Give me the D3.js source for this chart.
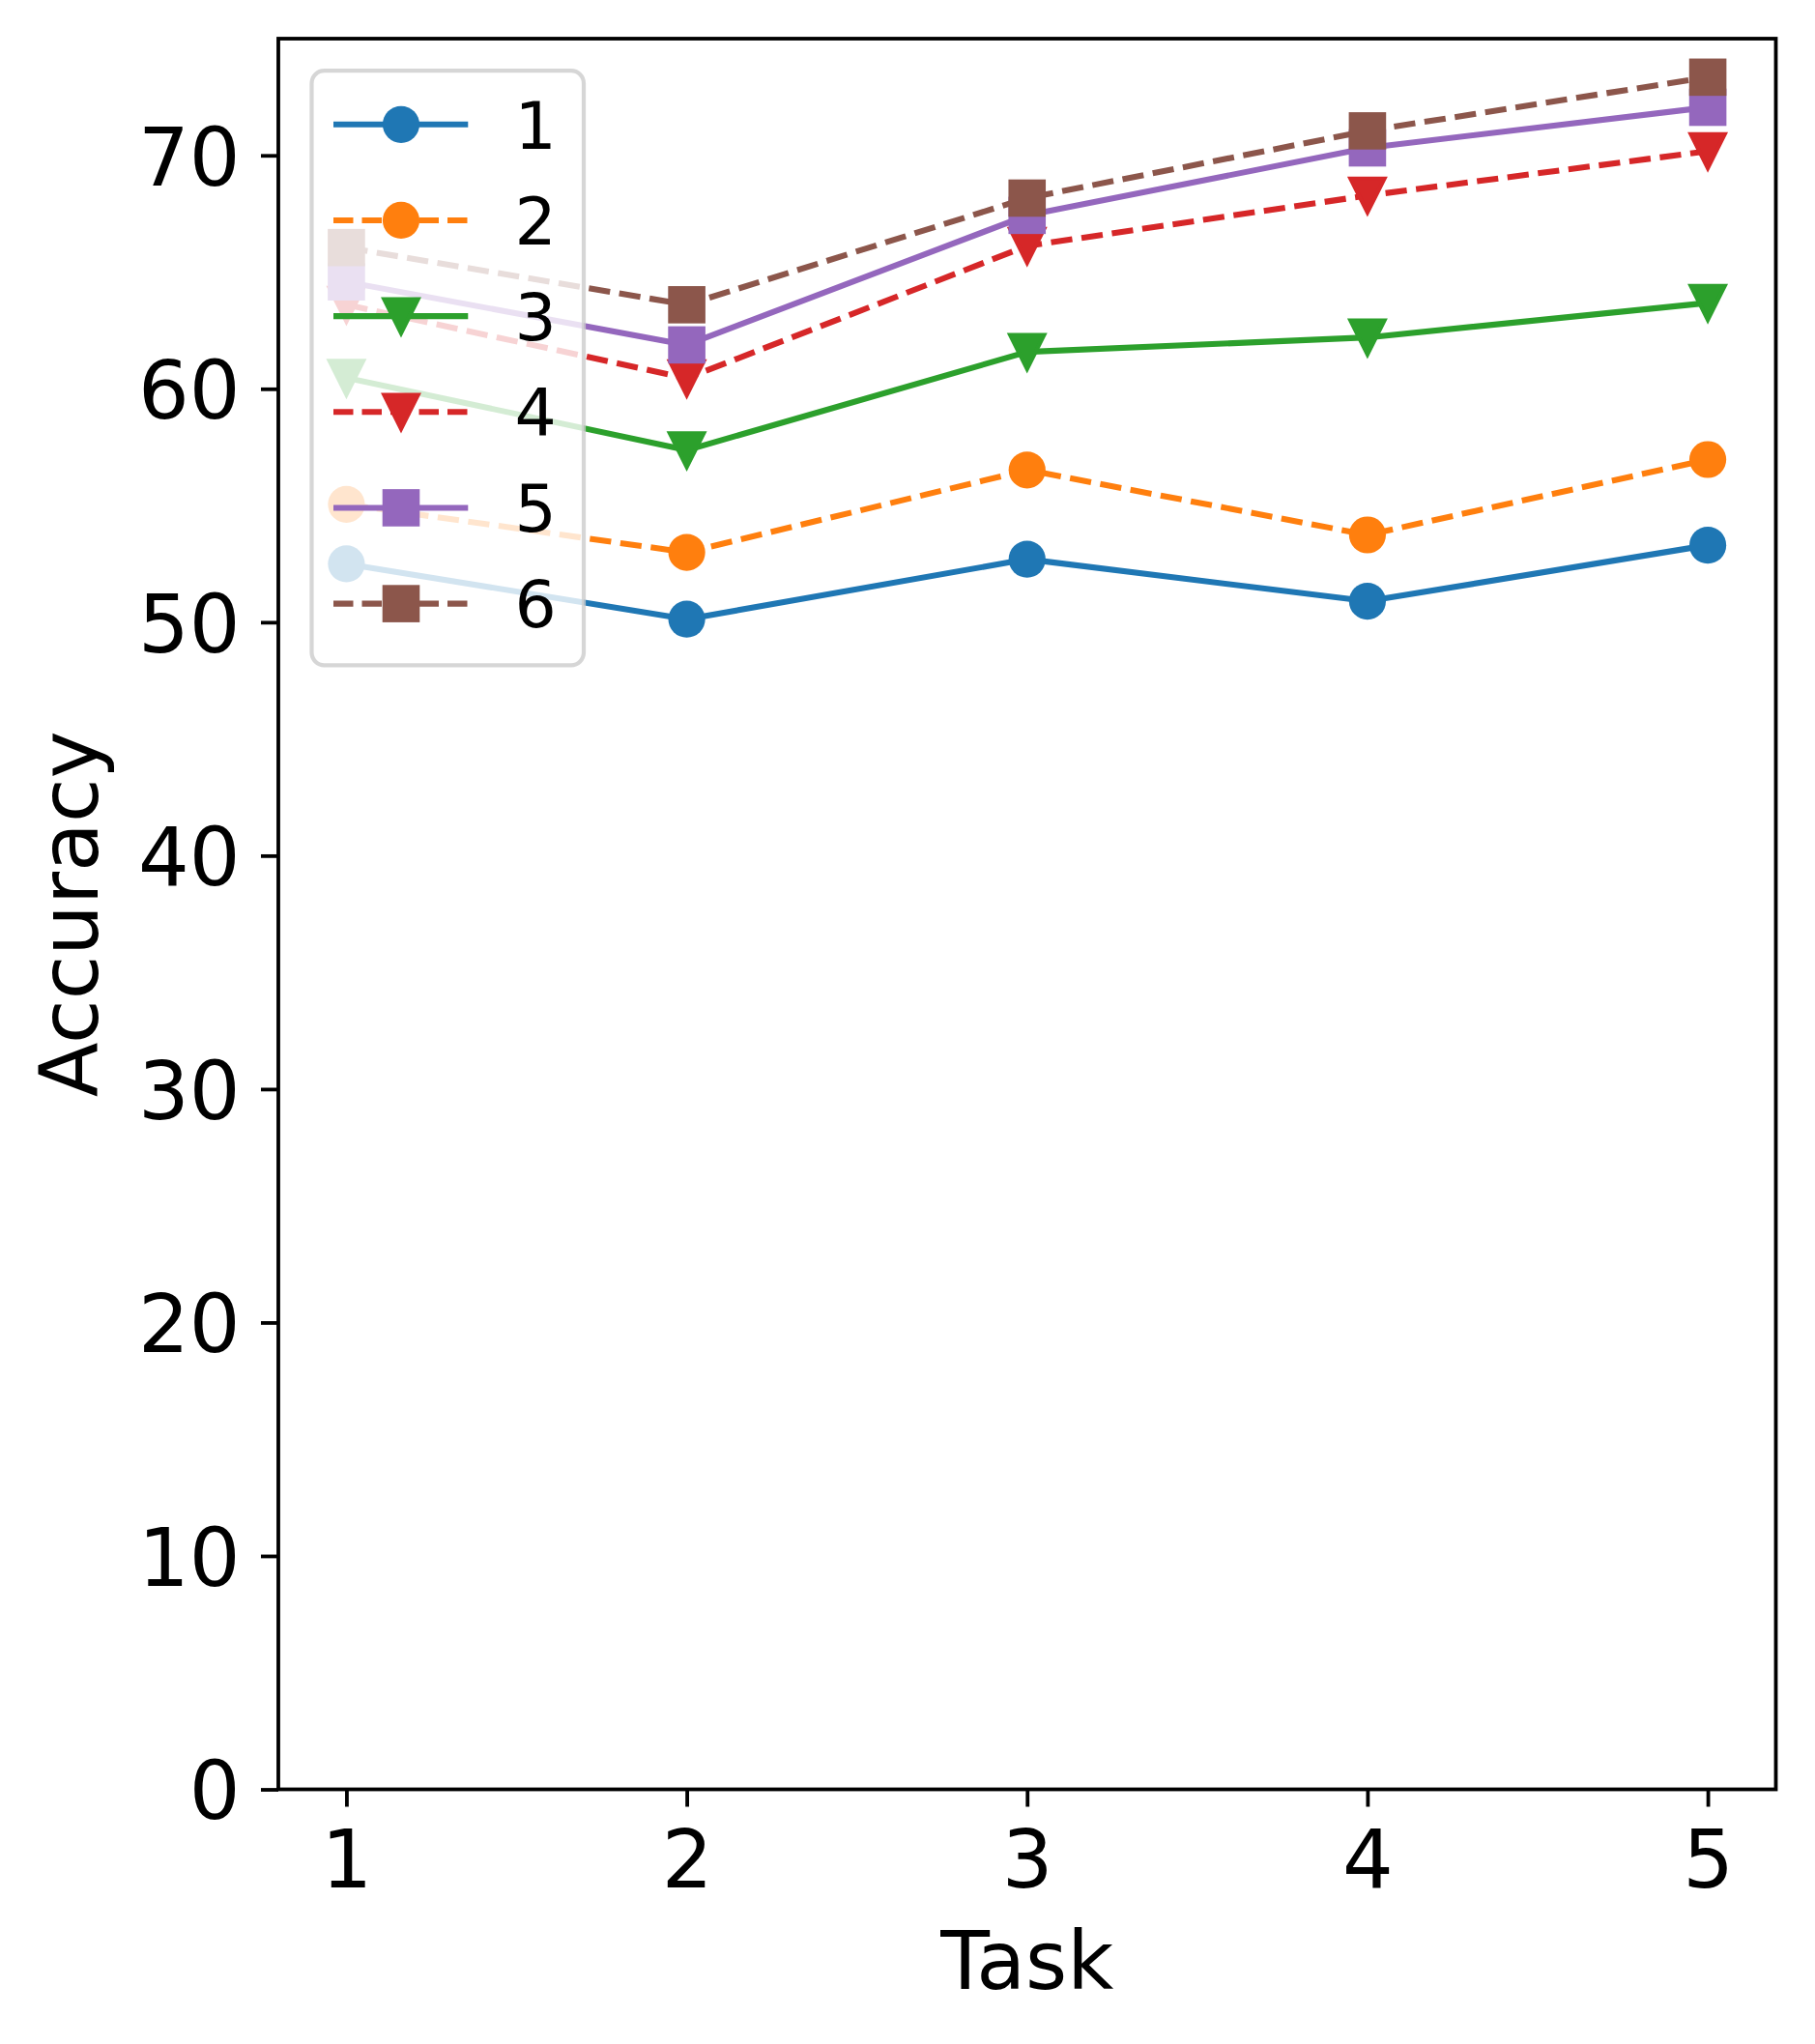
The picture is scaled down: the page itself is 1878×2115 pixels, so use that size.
<!DOCTYPE html>
<html>
<head>
<meta charset="utf-8">
<script src="https://cdn.jsdelivr.net/npm/d3@7"></script>
<style>
  html, body { margin: 0; padding: 0; background: #fff; }
  svg { display: block; }
  text { font-family: "DejaVu Sans", sans-serif; fill: #000; }
</style>
</head>
<body>
<div id="chart"></div>
<script>
// ---- data ----
const tasks = [1, 2, 3, 4, 5];
const seriesNames = ["1", "2", "3", "4", "5", "6"];
const s1 = [52.5, 50.13, 52.7, 50.9, 53.3];
const s2 = [55.05, 52.99, 56.52, 53.74, 56.97];
const s3 = [60.47, 57.37, 61.58, 62.2, 63.68];
const s4 = [63.6, 60.45, 66.12, 68.28, 70.18];
const s5 = [64.58, 61.88, 67.43, 70.32, 72.06];
const s6 = [66.05, 63.6, 68.17, 71.05, 73.35];
const yTicks = [0, 10, 20, 30, 40, 50, 60, 70];
const xLabel = "Task";
const yLabel = "Accuracy";

const colors = ["#1f77b4", "#ff7f0e", "#2ca02c", "#d62728", "#9467bd", "#8c564b"];
const markers = ["circle", "circle", "tri", "tri", "square", "square"];
const dashed = [false, true, false, true, false, true];
const allSeries = [s1, s2, s3, s4, s5, s6];

// ---- layout ----
const W = 1878, H = 2115;
const axL = 288, axR = 1837.5, axT = 40, axB = 1851.5;
const fs = 83, legendFs = 68;
const lw = 6.1, spineW = 3.8;
const dash = "22.2,9.6";

const svg = d3.select("#chart").append("svg").attr("width", W).attr("height", H);
svg.append("rect").attr("width", W).attr("height", H).attr("fill", "#fff");

const x = d3.scaleLinear().domain([0.8, 5.2]).range([axL, axR]);
const y = d3.scaleLinear().domain([0, 75]).range([axB, axT]);

svg.append("defs").append("clipPath").attr("id", "clip")
  .append("rect").attr("x", axL).attr("y", axT).attr("width", axR - axL).attr("height", axB - axT);

function drawMarker(g, type, cx, cy, color) {
  if (type === "circle") {
    g.append("circle").attr("cx", cx).attr("cy", cy).attr("r", 19.1).attr("fill", color);
  } else if (type === "square") {
    const s = 38.6;
    g.append("rect").attr("x", cx - s / 2).attr("y", cy - s / 2).attr("width", s).attr("height", s).attr("fill", color);
  } else {
    const s = 35.2;
    const p = d3.path();
    p.moveTo(cx - s / 2, cy - s / 2);
    p.lineTo(cx + s / 2, cy - s / 2);
    p.lineTo(cx, cy + s / 2);
    p.closePath();
    g.append("path").attr("d", p.toString()).attr("fill", color)
      .attr("stroke", color).attr("stroke-width", 4.17).attr("stroke-linejoin", "miter").attr("stroke-miterlimit", 10);
  }
}

// ---- data lines ----
const plot = svg.append("g").attr("clip-path", "url(#clip)");
const line = d3.line().x((d, i) => x(tasks[i])).y(d => y(d));
allSeries.forEach((vals, k) => {
  const g = plot.append("g");
  g.append("path").datum(vals).attr("d", line)
    .attr("fill", "none").attr("stroke", colors[k]).attr("stroke-width", lw)
    .attr("stroke-linejoin", "round")
    .attr("stroke-linecap", dashed[k] ? "butt" : "square")
    .attr("stroke-dasharray", dashed[k] ? dash : null);
  vals.forEach((v, i) => drawMarker(g, markers[k], x(tasks[i]), y(v), colors[k]));
});

// ---- axes ----
const xAxis = d3.axisBottom(x).tickValues(tasks).tickSize(18).tickPadding(10).tickFormat(d3.format("d"));
const gx = svg.append("g").attr("transform", `translate(0,${axB})`).call(xAxis);
gx.select(".domain").remove();
gx.selectAll(".tick line").attr("stroke", "#000").attr("stroke-width", spineW);
gx.selectAll(".tick text").attr("font-size", fs).attr("font-family", "DejaVu Sans")
  .attr("dy", null).attr("y", 1953 - axB);

const yAxis = d3.axisLeft(y).tickValues(yTicks).tickSize(18).tickFormat(d3.format("d"));
const gy = svg.append("g").attr("transform", `translate(${axL},0)`).call(yAxis);
gy.select(".domain").remove();
gy.selectAll(".tick line").attr("stroke", "#000").attr("stroke-width", spineW);
gy.selectAll(".tick text").attr("font-size", fs).attr("font-family", "DejaVu Sans")
  .attr("x", 248.5 - axL).attr("dy", null).attr("y", 0.729 * fs / 2);

// spines
svg.append("rect").attr("x", axL).attr("y", axT).attr("width", axR - axL).attr("height", axB - axT)
  .attr("fill", "none").attr("stroke", "#000").attr("stroke-width", spineW);

// axis labels
svg.append("text").attr("x", (axL + axR) / 2).attr("y", 2058).attr("text-anchor", "middle")
  .attr("font-size", fs).text(xLabel);
svg.append("text").attr("transform", `translate(101,${(axT + axB) / 2}) rotate(-90)`)
  .attr("text-anchor", "middle").attr("font-size", fs).text(yLabel);

// ---- legend ----
const lg = svg.append("g");
lg.append("rect").attr("x", 322.5).attr("y", 73.2).attr("width", 604 - 322.5).attr("height", 688.3 - 73.2)
  .attr("rx", 13).attr("ry", 13)
  .attr("fill", "#fff").attr("fill-opacity", 0.8)
  .attr("stroke", "#cccccc").attr("stroke-opacity", 0.8).attr("stroke-width", 4.2);
const rowY = d3.scaleLinear().domain([0, 5]).range([128.8, 624.6]);
seriesNames.forEach((name, k) => {
  const yy = rowY(k);
  const g = lg.append("g");
  g.append("line").attr("x1", 345).attr("x2", 484.3).attr("y1", yy).attr("y2", yy)
    .attr("stroke", colors[k]).attr("stroke-width", lw)
    .attr("stroke-dasharray", dashed[k] ? "20.5,9" : null);
  drawMarker(g, markers[k], 415, yy, colors[k]);
  g.append("text").attr("x", 532.5).attr("y", yy + 0.729 * legendFs / 2)
    .attr("font-size", legendFs).text(name);
});
</script>
</body>
</html>
